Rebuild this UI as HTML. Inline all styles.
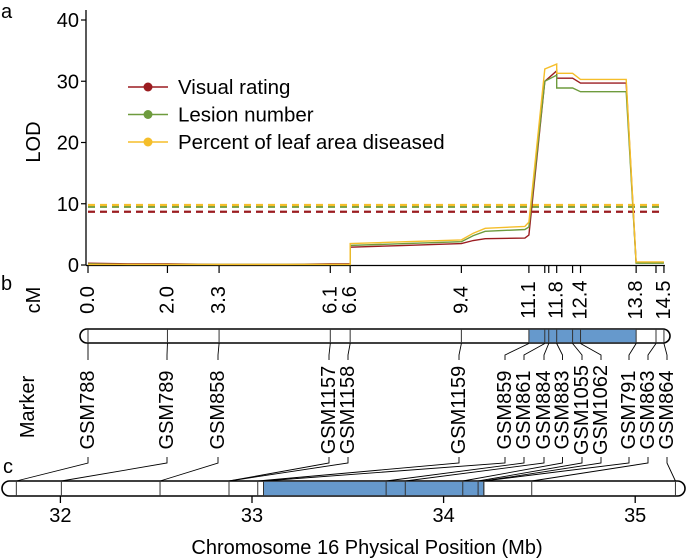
<!DOCTYPE html>
<html><head><meta charset="utf-8">
<style>
html,body{margin:0;padding:0;background:#fff;}
svg{display:block;font-family:"Liberation Sans",sans-serif;}
</style></head>
<body>
<svg id="chart" width="686" height="560" viewBox="0 0 686 560" xmlns="http://www.w3.org/2000/svg">
  <text x="1" y="18" font-size="20">a</text>
  <text x="1" y="290" font-size="20">b</text>
  <text x="3" y="473" font-size="20">c</text>
  <text transform="translate(40,142) rotate(-90)" text-anchor="middle" font-size="20">LOD</text>
  <text transform="translate(40,300) rotate(-90)" text-anchor="middle" font-size="20">cM</text>
  <text transform="translate(34,407) rotate(-90)" text-anchor="middle" font-size="20">Marker</text>
  <text x="367" y="554" text-anchor="middle" font-size="20">Chromosome 16 Physical Position (Mb)</text>
  <g id="gA"></g><g id="gB"></g><g id="gC"></g>
</svg>
<script>
// ---- data ----
const yTicks = [0, 10, 20, 30, 40];
const lodPos = [0,1,2,3.3,5,6.1,6.6,6.6,8,9.4,9.7,10,11.0,11.1,11.5,11.8,11.8,12.2,12.4,13.55,13.8,14.5];
const visualRating = [0.3,0.2,0.2,0.1,0.1,0.2,0.2,2.9,3.2,3.5,4.0,4.3,4.4,4.9,30,31.7,30.5,30.5,29.7,29.7,0.4,0.4];
const lesionNumber = [0.2,0.1,0.1,0.1,0.1,0.1,0.1,3.2,3.5,3.8,4.8,5.5,5.8,6.2,30,31.0,28.9,28.9,28.3,28.3,0.3,0.3];
const percentLeaf = [0.1,0.1,0.1,0.1,0.1,0.1,0.1,3.5,3.8,4.1,5.2,6.0,6.3,7.0,32,32.8,31.3,31.3,30.3,30.3,0.5,0.5];
const thresholds = [8.7, 9.5, 9.8];
const seriesNames = ["Visual rating", "Lesion number", "Percent of leaf area diseased"];
const markers = ["GSM788","GSM789","GSM858","GSM1157","GSM1158","GSM1159","GSM859","GSM861","GSM884","GSM883","GSM1055","GSM1062","GSM791","GSM863","GSM864"];
const markerCM = [0.0,2.0,3.3,6.1,6.6,9.4,11.1,11.5,11.6,11.8,12.2,12.4,13.8,14.3,14.5];
const cmLabels = ["0.0","2.0","3.3","6.1","6.6","9.4","11.1","","","11.8","","12.4","13.8","","14.5"];
const markerMb = [31.77,32.005,32.52,32.88,32.88,33.03,33.06,33.70,33.80,34.10,34.18,34.21,34.21,34.46,35.21];
const mbTicks = [32, 33, 34, 35];
const blueCM = [11.1, 13.8];
const blueMb = [33.06, 34.21];
const colors = ["#9b1c20", "#6e9b3d", "#f5be2a"];

// ---- scales ----
const xCM = v => 88 + v * 39.72;
const yLOD = v => 265 - v * 6.125;
const xMb = v => 60.4 + (v - 32) * 191.6;
const labelX = [88,167,218,329,348,459,505,524,544,562.5,582,601,629,648,667];

const NS = "http://www.w3.org/2000/svg";
function mk(parent, tag, attrs) {
  const e = document.createElementNS(NS, tag);
  for (const k in attrs) e.setAttribute(k, attrs[k]);
  parent.appendChild(e);
  return e;
}
const gA = document.getElementById("gA"), gB = document.getElementById("gB"), gC = document.getElementById("gC");

// axes A
let ax = mk(gA, "line", {x1:86, y1:10, x2:86, y2:265.5, stroke:"#000", "stroke-width":1.3});


let xax = mk(gA, "line", {x1:86, y1:265.5, x2:xCM(14.5)+1, y2:265.5, stroke:"#000", "stroke-width":1.3});


yTicks.forEach(t => {
  const l = mk(gA, "line", {x1:81, y1:yLOD(t), x2:86, y2:yLOD(t), stroke:"#000", "stroke-width":1.2});
  
  
  const tx = mk(gA, "text", {x:79, y:yLOD(t)+7, "text-anchor":"end", "font-size":20});
  tx.textContent = t;
  
  
});
markerCM.forEach(c => {
  const l = mk(gA, "line", {x1:xCM(c), y1:265, x2:xCM(c), y2:273, stroke:"#000", "stroke-width":1.2});
  
  
});
// thresholds
thresholds.forEach((t, i) => {
  const l = mk(gA, "line", {x1:88, y1:yLOD(t), x2:xCM(14.5), y2:yLOD(t), stroke:colors[i], "stroke-width":2.2, "stroke-dasharray":"7 5"});
  
  
});
// series
[visualRating, lesionNumber, percentLeaf].forEach((s, i) => {
  const pts = s.map((v, j) => xCM(lodPos[j]).toFixed(1) + "," + yLOD(v).toFixed(1)).join(" ");
  const p = mk(gA, "polyline", {points:pts, fill:"none", stroke:colors[i], "stroke-width":1.4});
  
  
});
// legend
seriesNames.forEach((n, i) => {
  const y = 87 + i * 27.5;
  const g = mk(gA, "g", {});
  
  
  mk(g, "line", {x1:128, y1:y, x2:168, y2:y, stroke:colors[i], "stroke-width":1.6});
  mk(g, "circle", {cx:148, cy:y, r:4.5, fill:colors[i]});
  const t = mk(g, "text", {x:178, y:y+7, "font-size":20.5});
  t.textContent = n;
});

// panel B bar
const bb = mk(gB, "rect", {x:80, y:329, width:590, height:14, rx:7, fill:"#fff", stroke:"#000", "stroke-width":1.6});


const bblue = mk(gB, "rect", {x:xCM(blueCM[0]), y:329.8, width:xCM(blueCM[1])-xCM(blueCM[0]), height:12.4, fill:"#6699cc"});


markerCM.forEach((c, i) => {
  const x = xCM(c);
  const l = mk(gB, "line", {x1:x, y1:329, x2:x, y2:343, stroke:"#333", "stroke-width":1});
  
  
  if (cmLabels[i]) {
    const t = mk(gB, "text", {transform:`translate(${x},300) rotate(-90)`, "text-anchor":"middle", "dominant-baseline":"central", "font-size":20});
    t.textContent = cmLabels[i];
    
    
  }
  const lx = labelX[i];
  const c1 = mk(gB, "polyline", {points:`${x},343.5 ${lx},355 ${lx},360`, fill:"none", stroke:"#000", "stroke-width":0.9});
  
  
  const mt = mk(gB, "text", {transform:`translate(${lx},410) rotate(-90)`, "text-anchor":"middle", "dominant-baseline":"central", "font-size":20});
  mt.textContent = markers[i];
  
  
  const px = xMb(markerMb[i]);
  const c2 = mk(gC, "polyline", {points:`${lx},457 ${lx},463 ${px},481`, fill:"none", stroke:"#000", "stroke-width":0.9});
  
  
});

// panel C bar
const cb = mk(gC, "rect", {x:2, y:481, width:683, height:15, rx:7.5, fill:"#fff", stroke:"#000", "stroke-width":1.6});


const cblue = mk(gC, "rect", {x:xMb(blueMb[0]), y:481.8, width:xMb(blueMb[1])-xMb(blueMb[0]), height:13.4, fill:"#6699cc"});


markerMb.forEach(m => {
  const l = mk(gC, "line", {x1:xMb(m), y1:481, x2:xMb(m), y2:496, stroke:"#333", "stroke-width":1});
  
  
});
mbTicks.forEach(m => {
  const l = mk(gC, "line", {x1:xMb(m), y1:496, x2:xMb(m), y2:503, stroke:"#000", "stroke-width":1.3});
  
  
  const t = mk(gC, "text", {x:xMb(m), y:522, "text-anchor":"middle", "font-size":20});
  t.textContent = m;
  
  
});
</script>
</body></html>
